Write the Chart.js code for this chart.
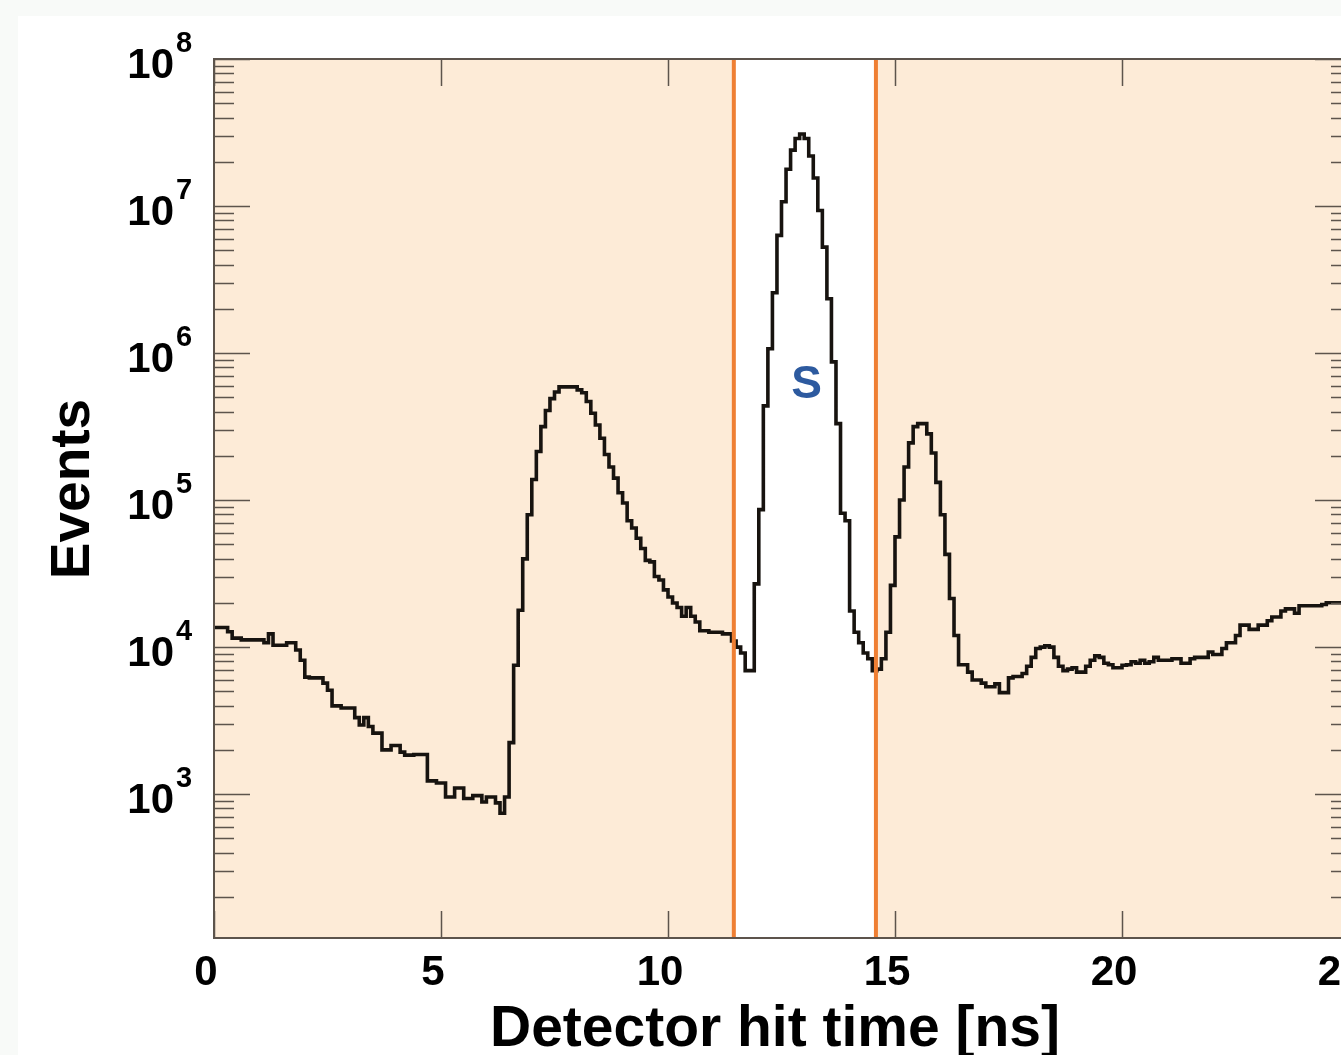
<!DOCTYPE html>
<html>
<head>
<meta charset="utf-8">
<title>Detector hit time</title>
<script src="https://cdn.jsdelivr.net/npm/chart.js@4.4.1/dist/chart.umd.min.js"></script>
<style>
  html, body { margin: 0; padding: 0; overflow: hidden; background: #f8faf8; }
  #plot { position: absolute; left: 0; top: 0; }
</style>
</head>
<body>
<canvas id="plot" width="1400" height="1055"></canvas>
<script>
// DATA
const binWidth = 0.1; // ns
const counts = [
  13600, 13600, 13600, 13600, 12700, 11500, 11500, 11200, 11200, 11200,
  11200, 11200, 10700, 12300, 10300, 10300, 10300, 10700, 10700, 9550,
  8130, 6250, 6170, 6170, 6170, 5690, 5090, 3980, 3980, 3850,
  3850, 3850, 3310, 2950, 3310, 2880, 2600, 2600, 2000, 2000,
  2140, 2140, 1930, 1840, 1840, 1860, 1860, 1860, 1230, 1230,
  1190, 1190, 955, 955, 1100, 1100, 933, 933, 977, 977,
  883, 955, 955, 871, 741, 955, 2240, 7530, 17800, 39800,
  79400, 138000, 214000, 316000, 407000, 490000, 543000, 589000, 589000, 589000,
  589000, 562000, 537000, 468000, 389000, 324000, 263000, 204000, 168000, 141000,
  112000, 95500, 72400, 64600, 55000, 46800, 38900, 38000, 30200, 28600,
  24500, 21900, 19950, 18600, 16200, 18600, 16200, 14800, 12900, 12900,
  12600, 12600, 12600, 12300, 12300, 11000, 10000, 9120, 6920, 6920,
  26900, 86100, 437000, 1070000, 2570000, 6310000, 10700000, 17800000, 24000000, 28800000,
  30900000, 28800000, 21900000, 15500000, 9330000, 5250000, 2340000, 871000, 331000, 81300,
  72400, 17600, 12600, 10700, 9120, 8320, 6920, 7080, 8320, 12600,
  26300, 56200, 100000, 168000, 245000, 316000, 331000, 331000, 282000, 209000,
  132000, 79400, 42700, 21400, 12000, 7590, 7590, 6760, 5970, 5970,
  5690, 5370, 5370, 5620, 4900, 4900, 6170, 6310, 6310, 6610,
  7410, 8510, 9770, 10000, 10200, 10000, 8510, 7410, 6920, 7080,
  7240, 6760, 6760, 7410, 8130, 8710, 8510, 7760, 7590, 7240,
  7240, 7520, 7590, 7940, 7760, 8130, 7760, 7940, 8510, 8130,
  8130, 8130, 8320, 8320, 7760, 7760, 8320, 8510, 8510, 8510,
  9250, 8910, 8910, 9770, 10700, 10700, 12000, 14100, 14100, 13200,
  13200, 14100, 14100, 15100, 16000, 16000, 17600, 18200, 18200, 17000,
  19100, 19100, 19100, 19100, 19100, 19500, 20000, 20000, 20000, 20000
];
const xTickValues = [0, 5, 10, 15, 20, 25];
const yDecades = [3, 4, 5, 6, 7, 8];
const cutEdges = [11.45, 14.58]; // signal window, ns
const signalLabel = 'S';
const signalLabelX = 13.05;
const xTitle = 'Detector hit time [ns]';
const yTitle = 'Events';

// BUILD HISTOGRAM POINTS (bin edges, held value)
const histPoints = counts.map((c, i) => ({ x: i * binWidth, y: c }));
histPoints.push({ x: counts.length * binWidth, y: counts[counts.length - 1] });

const FRAME = '#5d544c';
const FONT = '"Liberation Sans", Arial, Helvetica, sans-serif';

// BACKGROUND + SHADED REGIONS
const shadePlugin = {
  id: 'shade',
  beforeDraw(chart) {
    const ctx = chart.ctx;
    ctx.save();
    ctx.fillStyle = '#f8faf8';
    ctx.fillRect(0, 0, chart.width, chart.height);
    ctx.fillStyle = '#ffffff';
    ctx.fillRect(18, 16, chart.width, chart.height);
    ctx.restore();
  },
  beforeDatasetsDraw(chart) {
    const { ctx, chartArea: a, scales: { x } } = chart;
    const x1 = x.getPixelForValue(cutEdges[0]);
    const x2 = x.getPixelForValue(cutEdges[1]);
    ctx.save();
    ctx.fillStyle = '#fdebd7';
    ctx.fillRect(a.left, a.top, a.right - a.left, a.bottom - a.top);
    ctx.fillStyle = '#ffffff';
    ctx.fillRect(x1, a.top, x2 - x1, a.bottom - a.top);
    ctx.restore();
  }
};

// FRAME, TICKS, LABELS
const axesPlugin = {
  id: 'axesDeco',
  afterDatasetsDraw(chart) {
    const { ctx, chartArea: a, scales: { x, y } } = chart;
    ctx.save();

    // cut lines
    ctx.strokeStyle = '#ef7f33';
    ctx.lineWidth = 4;
    cutEdges.forEach(v => {
      const px = x.getPixelForValue(v);
      ctx.beginPath();
      ctx.moveTo(px, a.top);
      ctx.lineTo(px, a.bottom);
      ctx.stroke();
    });

    // frame
    ctx.strokeStyle = FRAME;
    ctx.lineWidth = 2;
    ctx.strokeRect(a.left, a.top, a.right - a.left, a.bottom - a.top);

    // x ticks
    ctx.lineWidth = 1.5;
    xTickValues.forEach(v => {
      const px = Math.round(x.getPixelForValue(v)) + 0.5;
      ctx.beginPath();
      ctx.moveTo(px, a.bottom);
      ctx.lineTo(px, a.bottom - 27);
      ctx.moveTo(px, a.top);
      ctx.lineTo(px, a.top + 27);
      ctx.stroke();
    });

    // y ticks (log: decades + minors)
    for (let k = 2; k <= 8; k++) {
      for (let m = 1; m <= 9; m++) {
        const v = m * Math.pow(10, k);
        if (v < y.min || v > y.max) continue;
        const py = Math.round(y.getPixelForValue(v)) + 0.5;
        const lenL = m === 1 ? 36 : 20;
        const lenR = m === 1 ? 34 : 18;
        ctx.beginPath();
        ctx.moveTo(a.left, py);
        ctx.lineTo(a.left + lenL, py);
        ctx.moveTo(a.right, py);
        ctx.lineTo(a.right - lenR, py);
        ctx.stroke();
      }
    }

    // x tick labels
    ctx.fillStyle = '#000000';
    ctx.font = 'bold 42px ' + FONT;
    ctx.textAlign = 'center';
    ctx.textBaseline = 'alphabetic';
    xTickValues.forEach(v => {
      const px = x.getPixelForValue(v);
      ctx.fillText(String(v), px - 8, 985);
    });

    // y tick labels 10^k
    yDecades.forEach(k => {
      const py = y.getPixelForValue(Math.pow(10, k));
      ctx.font = 'bold 42px ' + FONT;
      ctx.textAlign = 'right';
      ctx.fillText('10', 174, py + 19);
      ctx.font = 'bold 29px ' + FONT;
      ctx.textAlign = 'left';
      ctx.fillText(String(k), 176, py - 7);
    });

    // axis titles
    ctx.font = 'bold 57px ' + FONT;
    ctx.textAlign = 'center';
    ctx.fillText(xTitle, 775, 1046, 576);

    ctx.save();
    ctx.translate(89, 489);
    ctx.rotate(-Math.PI / 2);
    ctx.font = 'bold 55px ' + FONT;
    ctx.fillText(yTitle, 0, 0);
    ctx.restore();

    // signal label
    ctx.fillStyle = '#2d5a9f';
    ctx.font = 'bold 46px ' + FONT;
    ctx.textAlign = 'center';
    ctx.fillText(signalLabel, x.getPixelForValue(signalLabelX), 398);

    ctx.restore();
  }
};

// CHART
const chart = new Chart(document.getElementById('plot'), {
  type: 'line',
  data: {
    datasets: [{
      label: 'Events',
      data: histPoints,
      stepped: 'after',
      borderColor: '#17130f',
      borderWidth: 3.6,
      borderJoinStyle: 'miter',
      pointRadius: 0,
      fill: false
    }]
  },
  options: {
    responsive: false,
    animation: false,
    devicePixelRatio: 1,
    layout: { padding: { left: 214, top: 59, right: 51, bottom: 117 } },
    plugins: { legend: { display: false }, tooltip: { enabled: false } },
    scales: {
      x: { type: 'linear', min: 0, max: 25, display: false },
      y: { type: 'logarithmic', min: 105, max: 1e8, display: false }
    }
  },
  plugins: [shadePlugin, axesPlugin]
});
</script>
</body>
</html>
